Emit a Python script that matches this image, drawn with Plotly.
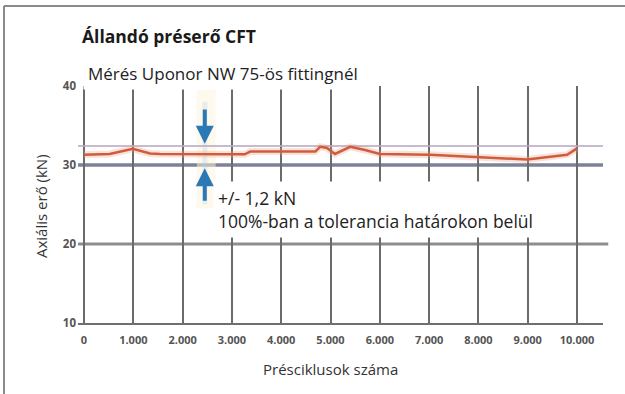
import plotly.graph_objects as go

# Measured axial force of the constant-force press (kN) over press cycles
cycles = [0, 520, 990, 1340, 1540, 2350, 3260, 3370, 4690, 4790, 4930, 5090,
          5400, 5700, 6000, 7020, 7970, 8990, 9800, 10000]
force = [31.3, 31.4, 32.05, 31.45, 31.4, 31.35, 31.35, 31.7, 31.7, 32.3, 32.15, 31.4,
         32.3, 31.9, 31.4, 31.3, 31.05, 30.7, 31.3, 32.1]

# Tolerance band: nominal 31.2 kN +/- 1.2 kN
tol_upper = 32.4
tol_lower = 30.0
marker_cycle = 2450

x_ticks = list(range(0, 10001, 1000))
x_tick_text = ["0", "1.000", "2.000", "3.000", "4.000", "5.000",
               "6.000", "7.000", "8.000", "9.000", "10.000"]
y_ticks = [10, 20, 30, 40]

title = "Állandó préserő CFT"
subtitle = "Mérés Uponor NW 75-ös fittingnél"
note_lines = ["+/- 1,2 kN", "100%-ban a tolerancia határokon belül"]
x_title = "Présciklusok száma"
y_title = "Axiális erő (kN)"

FONT = "Open Sans"
W, H = 625, 394
L, R, T, B = 78, 603, 86, 323  # plot area in pixels


def px(xp):
    return (xp - L) / (R - L)


def py(yp):
    return (B - yp) / (B - T)


fig = go.Figure()

# tolerance limit
fig.add_trace(go.Scatter(x=[-200, 10600], y=[tol_upper, tol_upper], mode="lines",
                         line=dict(color="rgba(185,170,195,0.8)", width=2),
                         hoverinfo="skip", showlegend=False))
# soft halo under the measurement curve
fig.add_trace(go.Scatter(x=cycles, y=force, mode="lines",
                         line=dict(color="rgba(235,160,140,0.3)", width=7),
                         hoverinfo="skip", showlegend=False))
fig.add_trace(go.Scatter(x=cycles, y=force, mode="lines",
                         line=dict(color="#cf5d3c", width=2.5),
                         showlegend=False))

shapes = [
    # highlighted band behind the arrows
    dict(type="rect", xref="x", yref="y", x0=marker_cycle - 160, x1=marker_cycle + 220,
         y0=24.5, y1=39.5, fillcolor="rgba(252,243,218,0.5)", line=dict(width=0), layer="below"),
    dict(type="rect", xref="x", yref="y", x0=marker_cycle - 50, x1=marker_cycle + 50,
         y0=25, y1=38, fillcolor="rgba(170,205,235,0.25)", line=dict(width=0), layer="below"),
    # horizontal reference lines
    dict(type="line", xref="paper", yref="y", x0=0, x1=1.01, y0=20, y1=20,
         line=dict(color="#8e8e8e", width=3), layer="below"),
    dict(type="line", xref="paper", yref="y", x0=0, x1=1.0, y0=tol_lower, y1=tol_lower,
         line=dict(color="#7c8297", width=3.5), layer="below"),
    # outer frame
    dict(type="line", xref="paper", yref="paper", x0=px(4), x1=px(W + 2), y0=py(6), y1=py(6),
         line=dict(color="#8a8a8a", width=2)),
    dict(type="line", xref="paper", yref="paper", x0=px(4), x1=px(4), y0=py(6), y1=py(H + 2),
         line=dict(color="#8a8a8a", width=2)),
]

annotations = [
    dict(text="<b>" + title + "</b>", xref="paper", yref="paper", x=px(80), y=py(36),
         xanchor="left", yanchor="middle", showarrow=False,
         font=dict(family=FONT, size=17.5, color="#1a1a1a")),
    dict(text=subtitle, xref="paper", yref="paper", x=px(83), y=py(74),
         xanchor="left", yanchor="middle", showarrow=False, bgcolor="white", borderpad=4,
         font=dict(family=FONT, size=17, color="#222222")),
    dict(text="<br>".join(note_lines), xref="paper", yref="paper", x=px(213), y=py(209),
         align="left", xanchor="left", yanchor="middle", showarrow=False,
         bgcolor="white", borderpad=4,
         font=dict(family=FONT, size=17.5, color="#222222")),
    dict(text=y_title, xref="paper", yref="paper", x=px(41), y=py(206), textangle=-90,
         xanchor="center", yanchor="middle", showarrow=False,
         font=dict(family=FONT, size=15, color="#333333")),
    dict(text=x_title, xref="paper", yref="paper", x=px(330), y=py(369),
         xanchor="center", yanchor="middle", showarrow=False,
         font=dict(family=FONT, size=15, color="#333333")),
    # tolerance arrows
    dict(x=marker_cycle, y=tol_upper + 0.3, ax=marker_cycle, ay=37.2, xref="x", yref="y",
         axref="x", ayref="y", text="", showarrow=True, arrowhead=2, arrowsize=0.9,
         arrowwidth=4, arrowcolor="#2b78b6"),
    dict(x=marker_cycle, y=tol_lower - 0.4, ax=marker_cycle, ay=25.3, xref="x", yref="y",
         axref="x", ayref="y", text="", showarrow=True, arrowhead=2, arrowsize=0.9,
         arrowwidth=4, arrowcolor="#2b78b6"),
]

fig.update_layout(
    width=W, height=H,
    margin=dict(l=L, r=W - R, t=T, b=H - B),
    paper_bgcolor="white", plot_bgcolor="white",
    shapes=shapes, annotations=annotations,
    showlegend=False,
    xaxis=dict(range=[(L - 84) / 0.0493, (R - 84) / 0.0493],
               tickvals=x_ticks, ticktext=x_tick_text,
               showgrid=True, gridcolor="#6b6b6b", gridwidth=2,
               showline=True, linecolor="#6f6f6f", linewidth=2,
               zeroline=False, ticks="", ticklabelstandoff=6,
               tickfont=dict(family=FONT, size=11, color="#555555", weight="bold")),
    yaxis=dict(range=[10, 40], tickvals=y_ticks,
               showgrid=False, zeroline=False, showline=False, ticks="",
               ticklabelstandoff=1,
               tickfont=dict(family=FONT, size=11.5, color="#555555", weight="bold")),
)

fig.write_html("out.html")
